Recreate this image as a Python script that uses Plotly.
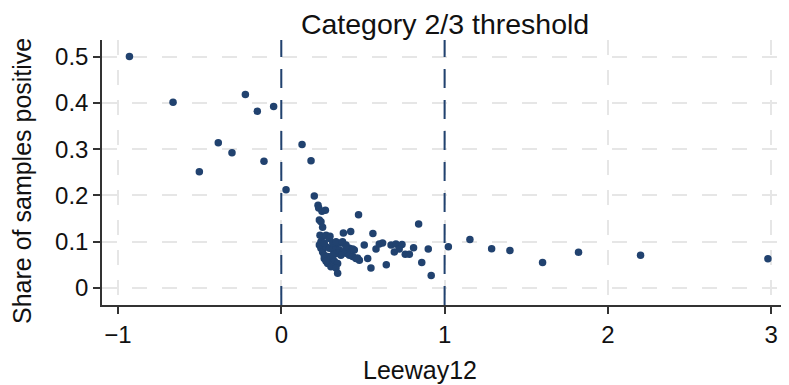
import plotly.graph_objects as go

# Data
leeway = [
    -0.93, -0.663, -0.502, -0.386, -0.302, -0.220, -0.147, -0.106, -0.047, 0.029,
    0.127, 0.182,
    0.202, 0.225, 0.229, 0.249, 0.27, 0.233, 0.243, 0.253, 0.473, 0.237, 0.298, 0.38, 0.425,
    0.253, 0.274, 0.294, 0.233, 0.243, 0.253, 0.263, 0.284, 0.304, 0.325, 0.345,
    0.274, 0.294, 0.315, 0.335, 0.355, 0.376, 0.396, 0.417, 0.437, 0.467,
    0.365, 0.396, 0.417, 0.447, 0.284, 0.304, 0.335, 0.345, 0.508, 0.529, 0.549,
    0.243, 0.263, 0.315, 0.335, 0.345, 0.365, 0.325, 0.263, 0.274, 0.315,
    0.561, 0.375, 0.396, 0.437, 0.478, 0.457, 0.58, 0.6, 0.62, 0.643,
    0.672, 0.702, 0.722, 0.739, 0.722, 0.692, 0.759, 0.784, 0.81, 0.841,
    0.86, 0.9, 0.918, 1.023, 1.155, 1.288, 1.40, 1.60, 1.82, 2.20, 2.98,
]
share_positive = [
    0.50, 0.401, 0.251, 0.314, 0.292, 0.418, 0.382, 0.274, 0.392, 0.212,
    0.31, 0.275,
    0.199, 0.179, 0.173, 0.166, 0.168, 0.147, 0.143, 0.131, 0.158, 0.114, 0.112, 0.119, 0.122,
    0.111, 0.114, 0.107, 0.093, 0.086, 0.078, 0.071, 0.068, 0.064, 0.058, 0.053,
    0.089, 0.086, 0.084, 0.087, 0.082, 0.078, 0.075, 0.071, 0.068, 0.065,
    0.097, 0.093, 0.086, 0.082, 0.053, 0.046, 0.043, 0.032, 0.093, 0.064, 0.043,
    0.100, 0.097, 0.097, 0.100, 0.075, 0.071, 0.073, 0.064, 0.058, 0.071,
    0.118, 0.100, 0.089, 0.084, 0.060, 0.064, 0.084, 0.095, 0.097, 0.050,
    0.093, 0.095, 0.091, 0.094, 0.084, 0.078, 0.073, 0.073, 0.087, 0.138,
    0.055, 0.084, 0.027, 0.089, 0.105, 0.085, 0.081, 0.055, 0.077, 0.071, 0.063,
]
thresholds = [0, 1]
x_tick_vals = [-1, 0, 1, 2, 3]
x_tick_text = ["\u22121", "0", "1", "2", "3"]
y_tick_vals = [0, 0.1, 0.2, 0.3, 0.4, 0.5]
y_tick_text = ["0", "0.1", "0.2", "0.3", "0.4", "0.5"]

navy = "#21426f"
font_family = "Liberation Sans, Arial, Helvetica, sans-serif"

fig = go.Figure()
fig.add_trace(go.Scatter(
    x=leeway, y=share_positive, mode="markers",
    marker=dict(size=7.5, color=navy, line=dict(width=0)),
    showlegend=False, hoverinfo="skip",
))

for t in thresholds:
    fig.add_shape(type="line", xref="x", yref="paper", x0=t, x1=t, y0=0, y1=1,
                  line=dict(color=navy, width=2, dash="19px,12px"), layer="above")

fig.update_layout(
    width=781, height=377,
    margin=dict(l=94, r=0, t=32, b=80),
    paper_bgcolor="white", plot_bgcolor="white",
    font=dict(family=font_family, color="#111111"),
    title=dict(text="Category 2/3 threshold", x=0.5596, xanchor="center",
               y=0.9576, yanchor="middle", font=dict(size=28.5, color="#111111")),
    xaxis=dict(
        range=[-1.098, 3.109], tickmode="array", tickvals=x_tick_vals, ticktext=x_tick_text,
        ticks="outside", ticklen=7, tickwidth=1.5, tickcolor="#333333",
        tickfont=dict(size=24), showline=True, linecolor="#333333", linewidth=1.5,
        showgrid=True, gridcolor="#e6e6e6", gridwidth=1.5, griddash="15px,15px",
        zeroline=False, mirror=False,
    ),
    yaxis=dict(
        range=[-0.0367, 0.5357], tickmode="array", tickvals=y_tick_vals, ticktext=y_tick_text,
        ticks="outside", ticklen=7, tickwidth=1.5, tickcolor="#333333",
        tickfont=dict(size=24), showline=True, linecolor="#333333", linewidth=1.5,
        showgrid=True, gridcolor="#e6e6e6", gridwidth=1.5, griddash="15px,15px",
        zeroline=False,
    ),
    annotations=[
        dict(text="Share of samples positive", xref="paper", yref="paper",
             x=0, xshift=-80, y=0.468, textangle=-90, showarrow=False,
             xanchor="center", yanchor="middle", font=dict(size=25, color="#111111")),
        dict(text="Leeway12", xref="paper", yref="paper",
             x=0.463, y=0, yshift=-65, showarrow=False,
             xanchor="center", yanchor="middle", font=dict(size=25, color="#111111")),
    ],
)

fig.write_html("out.html")
